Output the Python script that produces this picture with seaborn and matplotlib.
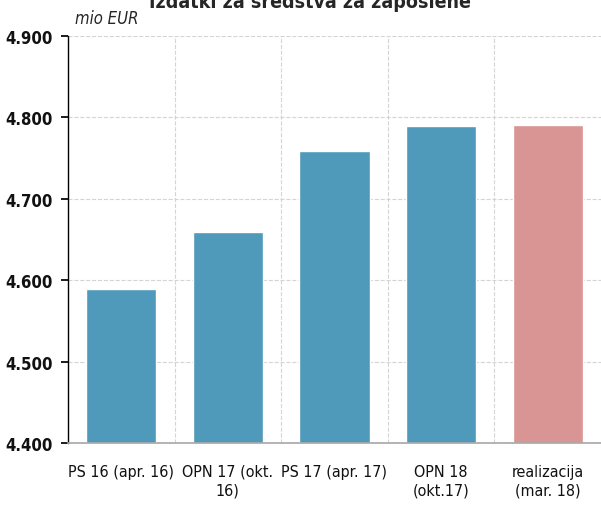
import matplotlib
matplotlib.use("Agg")
import matplotlib.pyplot as plt
import seaborn as sns
import pandas as pd
from matplotlib.ticker import FuncFormatter, FixedLocator

categories = ["PS 16 (apr. 16)", "OPN 17 (okt.\n16)", "PS 17 (apr. 17)", "OPN 18\n(okt.17)", "realizacija\n(mar. 18)"]
values = [4589, 4659, 4759, 4789, 4791]
colors = ["#4f9aba", "#4f9aba", "#4f9aba", "#4f9aba", "#d99594"]
yticks = [4400, 4500, 4600, 4700, 4800, 4900]

sns.set_theme(style="white")
plt.rcParams['font.family'] = ['DejaVu Sans']
plt.rcParams['font.stretch'] = 'condensed'

fig = plt.figure(figsize=(6.01, 5.06), dpi=100)
ax = fig.add_axes([0.113, 0.1225, 0.887, 0.8045])

df = pd.DataFrame({"cat": categories, "val": values})
sns.barplot(data=df, x="cat", y="val", hue="cat", palette=colors, legend=False,
            width=0.66, ax=ax, saturation=1)

ax.set_ylim(4400, 4900)
ax.set_xlim(-0.5, 4.5)
ax.set_yticks(yticks)
ax.yaxis.set_major_formatter(FuncFormatter(lambda v, p: f"{v/1000:.3f}"))
ax.set_xlabel("")
ax.set_ylabel("")
ax.xaxis.set_minor_locator(FixedLocator([0.5, 1.5, 2.5, 3.5]))
ax.grid(axis="y", which="major", color="#d4d4d4", linestyle="--", linewidth=0.8)
ax.grid(axis="x", which="minor", color="#d4d4d4", linestyle="--", linewidth=0.8)
ax.set_axisbelow(True)
for s in ["top", "right"]:
    ax.spines[s].set_visible(False)
ax.spines["left"].set_color("black")
ax.spines["left"].set_linewidth(1)
ax.spines["bottom"].set_color("#aaaaaa")
ax.tick_params(axis="y", which="major", left=True, length=5, color="black", labelsize=12, pad=6, labelcolor="#111111")
ax.tick_params(axis="x", which="both", bottom=False, labelsize=11.5, pad=9, labelcolor="#111111")
for lab in ax.get_yticklabels():
    lab.set_fontweight("bold")
for lab in ax.get_xticklabels():
    lab.set_linespacing(1.3)

fig.text(0.125, 0.962, "mio EUR", fontsize=12, style="italic", va="center", ha="left")
fig.text(0.515, 0.995, "Izdatki za sredstva za zaposlene", fontsize=14, fontweight="bold", ha="center", va="center")

fig.savefig("out.png", dpi=100)
